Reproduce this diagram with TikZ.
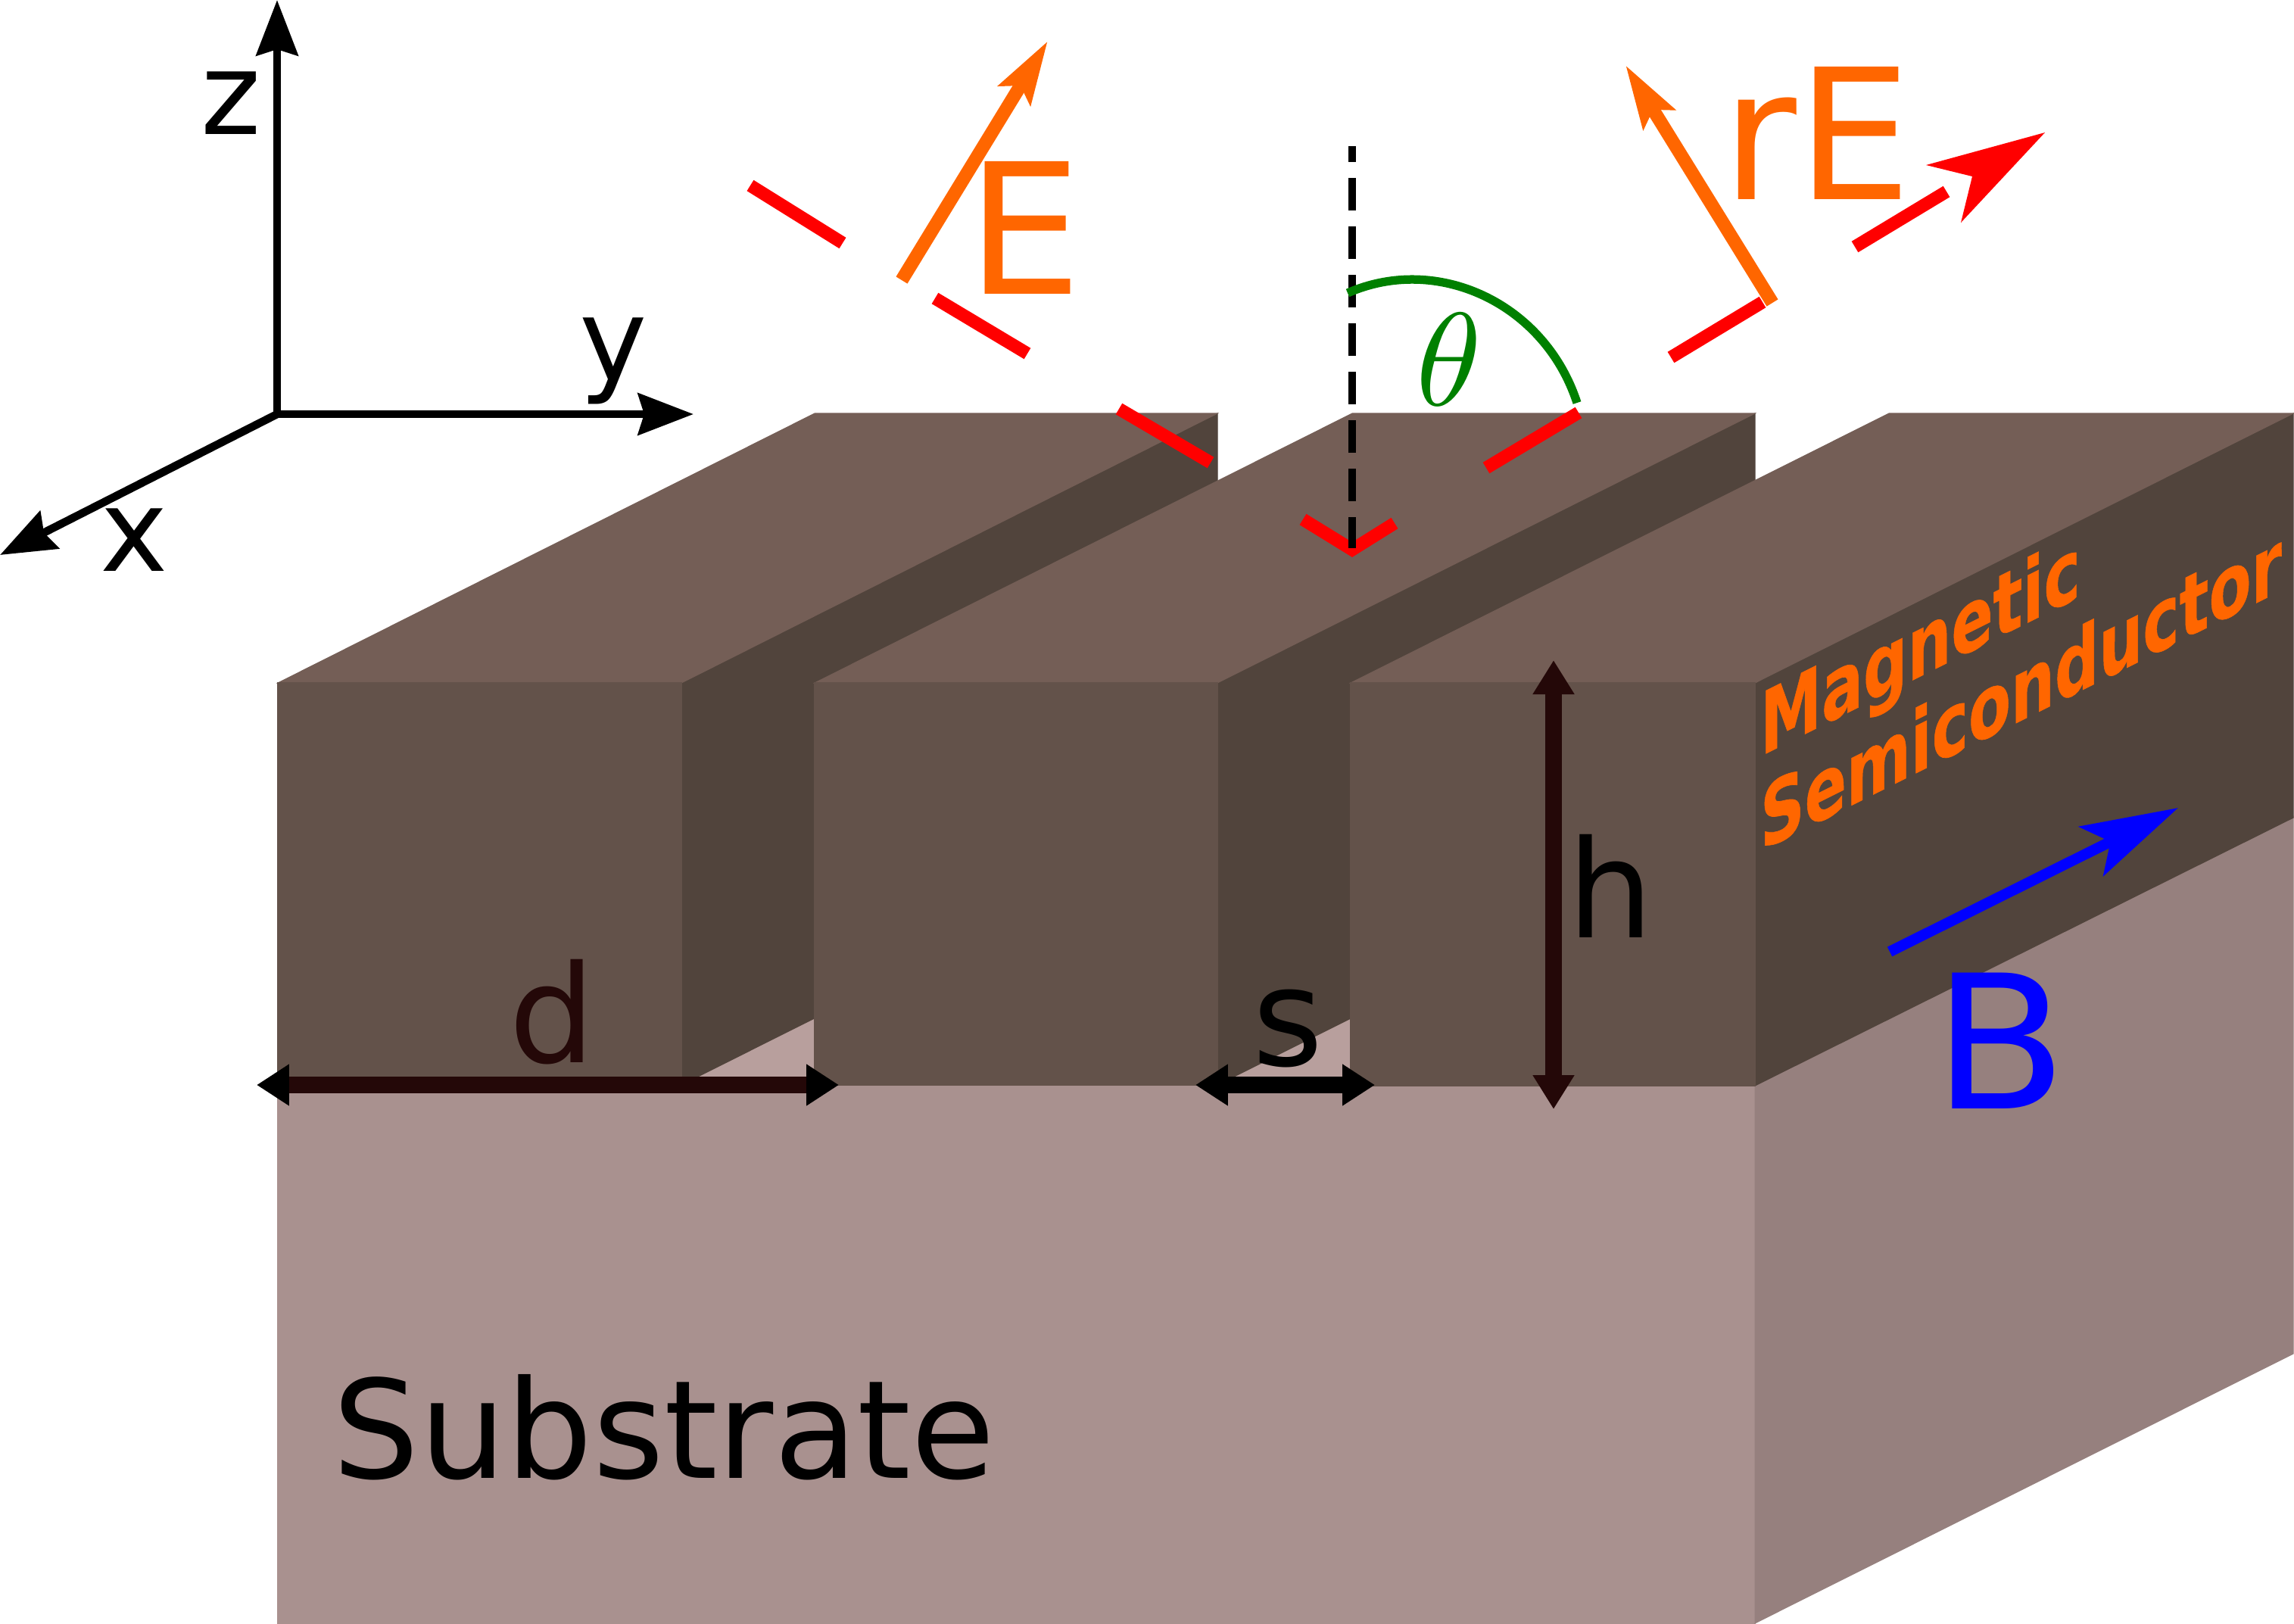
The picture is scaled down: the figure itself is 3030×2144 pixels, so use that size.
\documentclass[tikz,border=0pt]{standalone}
\usepackage{fontspec}
\setmainfont{DejaVu Sans}
\newfontfamily\magfont[BoldFeatures={FakeBold=0.6}]{DejaVu Sans}
\usetikzlibrary{arrows.meta}
\definecolor{fintop}{HTML}{745E56}
\definecolor{finfront}{HTML}{63524A}
\definecolor{finside}{HTML}{51443C}
\definecolor{subfront}{HTML}{A9918F}
\definecolor{subside}{HTML}{96807E}
\definecolor{subfloor}{HTML}{B89F9D}
\definecolor{darkline}{HTML}{240808}
\definecolor{orng}{HTML}{FF6600}
\definecolor{grn}{HTML}{008000}
\newcommand\myfs[1]{\fontsize{#1}{#1}\selectfont}
\tikzset{
  face/.style={fill=#1,draw=#1,line width=0.3pt,line join=miter},
  label/.style={inner sep=0pt,outer sep=0pt},
  axisline/.style={black,line width=3pt,-{Stealth[length=20.8pt,width=15.6pt,inset=2.3pt]}},
  redray/.style={red,line width=4.8pt,miter limit=10},
  orangeray/.style={orng,line width=5pt,-{Stealth[length=23.6pt,width=13.6pt,inset=4pt]}},
  dimline/.style={line width=6.15pt},
}
\begin{document}
\begin{tikzpicture}[x=0.01cm,y=-0.01cm]
\useasboundingbox (0,0) rectangle (3030,2144);
% substrate
\path[face=subfront] (367,1433) -- (2318,1433) -- (2318,2144) -- (367,2144) -- cycle;
\path[face=subside] (2318,1434) -- (3029,1080) -- (3029,1788) -- (2318,2144) -- cycle;
\path[face=subfloor] (367,1433) -- (2318,1433) -- (3029,1078) -- (1078,1078) -- cycle;
% fin 1
\path[face=finside] (900,902) -- (1608,546) -- (1608,1078) -- (900,1433) -- cycle;
\path[face=fintop] (367,902) -- (1076,546) -- (1608,546) -- (900,902) -- cycle;
\path[face=finfront] (367,902) -- (900,902) -- (900,1433) -- (367,1433) -- cycle;
% fin 2
\path[face=finside] (1608,902) -- (2318,546) -- (2318,1078) -- (1608,1433) -- cycle;
\path[face=fintop] (1076,902) -- (1786,546) -- (2318,546) -- (1608,902) -- cycle;
\path[face=finfront] (1076,902) -- (1608,902) -- (1608,1433) -- (1076,1433) -- cycle;
% fin 3
\path[face=finside] (2318,902) -- (3029,546) -- (3029,1080) -- (2318,1434) -- cycle;
\path[face=fintop] (1784,902) -- (2495,546) -- (3029,546) -- (2318,902) -- cycle;
\path[face=finfront] (1784,902) -- (2318,902) -- (2318,1434) -- (1784,1434) -- cycle;
% coordinates
\coordinate (O) at (366,547);
\coordinate (Zt) at (366,0);
\coordinate (Yt) at (916,547);
\coordinate (Xt) at (0,733);
\coordinate (A1) at (991,245);
\coordinate (A2) at (1113,321);
\coordinate (B1) at (1235,394);
\coordinate (B2) at (1357,467);
\coordinate (C1) at (1478,540);
\coordinate (C2) at (1599,611);
\coordinate (V1) at (1721,686);
\coordinate (V2) at (1786,726);
\coordinate (V3) at (1842,691);
\coordinate (E1) at (1963,618);
\coordinate (E2) at (2085,545);
\coordinate (F1) at (2207,472);
\coordinate (F2) at (2328,399);
\coordinate (G1) at (2450,326);
\coordinate (G2) at (2571,253);
\coordinate (Rt) at (2701,175);
\coordinate (Rw) at (2544,218);
\coordinate (Rn) at (2605,233);
\coordinate (Rv) at (2590,294);
\coordinate (Ea) at (1191,370);
\coordinate (Eb) at (1384,54);
\coordinate (Fa) at (2341,400);
\coordinate (Fb) at (2147,86);
\coordinate (Na) at (1786,193);
\coordinate (Nb) at (1786,724);
\coordinate (Nc) at (1786,683);
\coordinate (Ta) at (1780,387);
\coordinate (Tb) at (2083,532);
\coordinate (Ba) at (2496,1257);
\coordinate (Bb) at (2877,1067);
\coordinate (Da) at (339,1433);
\coordinate (Db) at (1108,1433);
\coordinate (Sa) at (1579,1433);
\coordinate (Sb) at (1816,1433);
\coordinate (Ha) at (2052,872);
\coordinate (Hb) at (2052,1465);
% axes
\draw[axisline] (O) -- (Zt);
\draw[axisline] (O) -- (Yt);
\draw[axisline] (O) -- (Xt);
\node[label] (zlab) at (305,136) {\myfs{43pt}z};
\node[label] (ylab) at (810,477) {\myfs{43pt}y};
\node[label] (xlab) at (177,713) {\myfs{43pt}x};
% normal
\draw[black,line width=3pt,dash pattern=on 12.23pt off 5.97pt,dash phase=6.2pt] (Na) -- (Nb);
% rays
\draw[redray] (A1) -- (A2);
\draw[redray] (B1) -- (B2);
\draw[redray] (C1) -- (C2);
\draw[redray] (V1) -- (V2) -- (V3);
\draw[black,line width=3pt] (Nc) -- (Nb);
\draw[redray] (E1) -- (E2);
\draw[redray] (F1) -- (F2);
\draw[redray] (G1) -- (G2);
\fill[red] (Rt) -- (Rw) -- (Rn) -- (Rv) -- cycle;
\draw[orangeray] (Ea) -- (Eb);
\draw[orangeray] (Fa) -- (Fb);
\draw[grn,line width=3.2pt] (Ta) .. controls (1898,335) and (2040,400) .. (Tb);
% labels
\node[label,text=orng] (Elab) at (1353.5,300.5) {\myfs{68.3pt}E};
\node[label,text=orng] (rElab) at (2400,176) {\myfs{68.3pt}rE};
\node[label,text=grn,scale=4.97] (thlab) at (1914,475) {$\theta$};
\node[label,text=blue,xscale=1.05] (Blab) at (2642,1375) {\myfs{70pt}B};
\node[label] (hlab) at (2127,1170) {\myfs{51pt}h};
\node[label,text=darkline] (dlab) at (729,1337) {\myfs{51pt}d};
\node[label] (slab) at (1701,1359) {\myfs{51pt}s};
\node[label] (sublab) at (877,1885) {\myfs{51.3pt}Substrate};
% dimension arrows
\draw[dimline,darkline,{Stealth[length=12.2pt,width=14.8pt,inset=0pt,black]}-{Stealth[length=12.2pt,width=14.8pt,inset=0pt,black]}] (Da) -- (Db);
\draw[dimline,black,{Stealth[length=12.2pt,width=14.8pt,inset=0pt]}-{Stealth[length=12.2pt,width=14.8pt,inset=0pt]}] (Sa) -- (Sb);
\draw[dimline,darkline,{Stealth[length=12.8pt,width=14.8pt,inset=0pt]}-{Stealth[length=12.8pt,width=14.8pt,inset=0pt]}] (Ha) -- (Hb);
% B arrow
\draw[blue,line width=4pt,-{Stealth[length=36.4pt,width=20.5pt,inset=8pt]}] (Ba) -- (Bb);
% magnetic semiconductor
\begin{scope}[shift={(2325,999)},yslant=0.5,xscale=0.715,transform shape]
\node[label,anchor=base west,text=orng] (mlab) at (0,0) {\myfs{32.4pt}\magfont\bfseries Magnetic};
\end{scope}
\begin{scope}[shift={(2325,1124)},yslant=0.5,xscale=0.715,transform shape]
\node[label,anchor=base west,text=orng] (semilab) at (0,0) {\myfs{32.4pt}\magfont\bfseries Semiconductor};
\end{scope}
\end{tikzpicture}
\end{document}
